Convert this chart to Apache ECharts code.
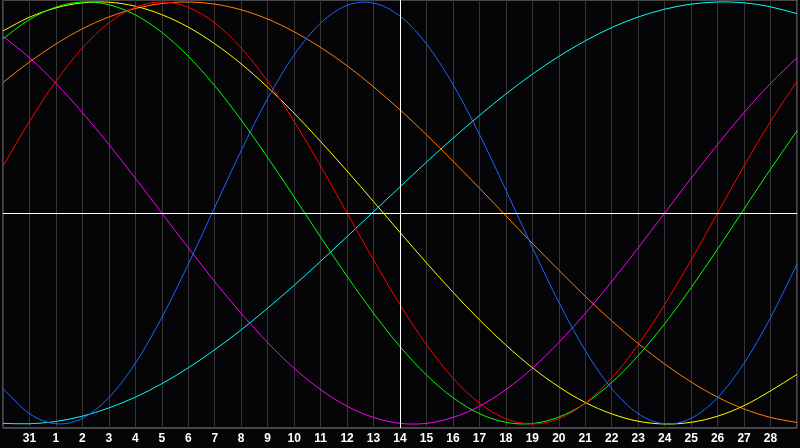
<!DOCTYPE html>
<html><head><meta charset="utf-8">
<script src="https://cdn.jsdelivr.net/npm/echarts@6/dist/echarts.min.js"></script>
<style>html,body{margin:0;padding:0;background:#050508;}#c{width:800px;height:448px;}</style>
</head><body><div id="c"></div>
<script>
var dayLabels = ['', '31', '1', '2', '3', '4', '5', '6', '7', '8', '9', '10', '11', '12', '13', '14', '15', '16', '17', '18', '19', '20', '21', '22', '23', '24', '25', '26', '27', '28', ''];
var physical = [-0.832, -0.951, -0.999, -0.973, -0.875, -0.712, -0.496, -0.243, 0.027, 0.296, 0.543, 0.749, 0.900, 0.984, 0.995, 0.933, 0.801, 0.610, 0.373, 0.109, -0.163, -0.423, -0.652, -0.832, -0.951, -0.999, -0.973, -0.875, -0.712, -0.496, -0.243];
var emotional = [0.223, 0.434, 0.624, 0.782, 0.901, 0.975, 1.000, 0.975, 0.901, 0.782, 0.624, 0.434, 0.223, 0.000, -0.223, -0.434, -0.624, -0.782, -0.901, -0.975, -1.000, -0.975, -0.901, -0.782, -0.624, -0.434, -0.223, 0.000, 0.223, 0.434, 0.624];
var intellectual = [0.826, 0.917, 0.976, 1.000, 0.987, 0.939, 0.856, 0.743, 0.603, 0.441, 0.263, 0.076, -0.114, -0.300, -0.475, -0.633, -0.768, -0.875, -0.951, -0.992, -0.998, -0.967, -0.902, -0.803, -0.676, -0.525, -0.354, -0.171, 0.019, 0.208, 0.389];
var intuitive = [0.837, 0.736, 0.614, 0.476, 0.325, 0.165, 0.000, -0.165, -0.325, -0.476, -0.614, -0.736, -0.837, -0.916, -0.969, -0.997, -0.997, -0.969, -0.916, -0.837, -0.736, -0.614, -0.476, -0.325, -0.165, 0.000, 0.165, 0.325, 0.476, 0.614, 0.736];
var aesthetic = [0.863, 0.928, 0.972, 0.996, 0.999, 0.980, 0.940, 0.881, 0.802, 0.707, 0.596, 0.473, 0.339, 0.199, 0.054, -0.092, -0.236, -0.375, -0.506, -0.626, -0.733, -0.824, -0.898, -0.952, -0.987, -1.000, -0.992, -0.963, -0.913, -0.843, -0.765];
var awareness = [0.619, 0.716, 0.801, 0.873, 0.929, 0.969, 0.993, 1.000, 0.990, 0.963, 0.919, 0.859, 0.785, 0.698, 0.598, 0.489, 0.371, 0.246, 0.118, -0.013, -0.144, -0.271, -0.395, -0.511, -0.619, -0.716, -0.801, -0.873, -0.929, -0.969, -0.993];
var spiritual = [-0.997, -0.999, -0.988, -0.963, -0.924, -0.873, -0.809, -0.734, -0.648, -0.554, -0.451, -0.343, -0.229, -0.112, 0.006, 0.124, 0.241, 0.354, 0.462, 0.564, 0.658, 0.742, 0.816, 0.879, 0.929, 0.966, 0.990, 1.000, 0.996, 0.977, 0.945];
var todayIndex = 15;

var chart = echarts.init(document.getElementById('c'), null, {renderer: 'canvas'});

// Smooth curve through the daily values (Catmull-Rom segments), positioned by the axes.
function curve(name, arr, color) {
  return {
    name: name, type: 'custom', animation: false, silent: true, z: 3,
    encode: {x: 0, y: 1},
    data: arr.map(function (v, i) { return [i, v]; }),
    renderItem: function (params, api) {
      var i = params.dataIndex, n = arr.length;
      if (i >= n - 1) return {type: 'group', children: []};
      var p1 = api.coord([i, arr[i]]);
      var p2 = api.coord([i + 1, arr[i + 1]]);
      var p0 = i > 0 ? api.coord([i - 1, arr[i - 1]]) : [2 * p1[0] - p2[0], 2 * p1[1] - p2[1]];
      var p3 = i + 2 < n ? api.coord([i + 2, arr[i + 2]]) : [2 * p2[0] - p1[0], 2 * p2[1] - p1[1]];
      return {
        type: 'bezierCurve',
        shape: {
          x1: p1[0], y1: p1[1], x2: p2[0], y2: p2[1],
          cpx1: p1[0] + (p2[0] - p0[0]) / 6, cpy1: p1[1] + (p2[1] - p0[1]) / 6,
          cpx2: p2[0] - (p3[0] - p1[0]) / 6, cpy2: p2[1] - (p3[1] - p1[1]) / 6
        },
        style: {stroke: color, fill: null, lineWidth: 1}
      };
    }
  };
}
var series = [
  curve('Spiritual', spiritual, '#00ffff'),
  curve('Awareness', awareness, '#ff8000'),
  curve('Aesthetic', aesthetic, '#ffff00'),
  curve('Intuitive', intuitive, '#ff00ff'),
  curve('Intellectual', intellectual, '#00ff00'),
  curve('Emotional', emotional, '#ff0000'),
  curve('Physical', physical, '#1a66ff')
];
series.push({
  name: 'today', type: 'line', data: physical, symbol: 'none', animation: false, silent: true,
  lineStyle: {opacity: 0}, z: 2,
  markLine: {
    silent: true, symbol: 'none', animation: false, label: {show: false},
    lineStyle: {color: '#ffffff', type: 'solid', width: 1},
    data: [{yAxis: 0}, {xAxis: todayIndex}]
  }
});
chart.setOption({
  backgroundColor: '#050508',
  animation: false,
  grid: {left: 0, right: 1, top: 0, bottom: 20, show: true, borderColor: '#8a8a8a', borderWidth: 1, backgroundColor: 'transparent'},
  xAxis: {
    type: 'category', data: dayLabels, boundaryGap: false,
    axisLine: {show: true, lineStyle: {color: '#9a9a9a', width: 1}},
    axisTick: {show: false},
    axisLabel: {color: '#ffffff', fontFamily: 'Liberation Sans', fontWeight: 'bold', fontSize: 12, margin: 5, interval: 0},
    splitLine: {show: true, interval: 0, lineStyle: {color: '#353535', width: 1}}
  },
  yAxis: {
    type: 'value', min: -1.019, max: 1.0095, show: false,
    splitLine: {show: false}
  },
  series: series
});
</script></body></html>
